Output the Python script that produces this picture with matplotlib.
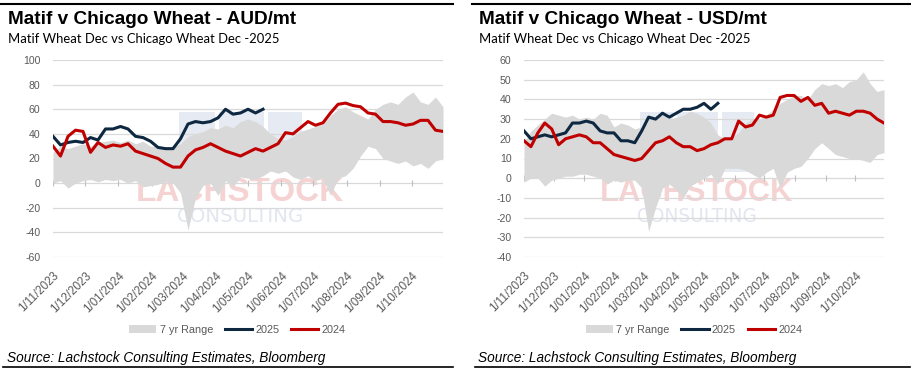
import numpy as np
import pandas as pd
import matplotlib
matplotlib.use('agg')
import matplotlib.pyplot as plt
from matplotlib.lines import Line2D
from matplotlib.patches import Patch, Rectangle

plt.rcParams['axes.unicode_minus'] = False

# weekly readings, 1 Nov 2023 -> 30 Oct 2024
dates = pd.date_range('2023-11-01', periods=53, freq='7D')

aud_lower = [0, 2, -4, 0, 2, 3, 1, 3, 2, 3, 0, 2, -3, -2, -1, 2, 0, -8, -38, -12,
             -2, 0, -10, 2, -3, 5, 4, 3, 6, 10, 8, 10, 5, 3, 6, 2, 4, -10, 4, 6,
             12, 22, 30, 28, 20, 18, 16, 18, 14, 16, 12, 18, 20]
aud_upper = [25, 30, 28, 30, 32, 30, 33, 34, 35, 33, 35, 32, 34, 30, 30, 28, 30, 32, 38, 40,
             42, 45, 44, 47, 45, 50, 52, 50, 46, 40, 36, 35, 38, 42, 44, 46, 48, 55, 60, 62,
             58, 55, 52, 60, 64, 66, 64, 70, 74, 66, 64, 70, 62]
aud_2024 = [30, 22, 38, 43, 42, 25, 33, 29, 31, 30, 32, 26, 24, 22, 20, 16, 13, 13, 22, 27,
            29, 32, 29, 26, 24, 22, 25, 28, 26, 29, 32, 41, 40, 45, 50, 47, 49, 57, 64, 65,
            63, 62, 57, 56, 50, 50, 49, 47, 48, 51, 51, 43, 42]
aud_2025 = [38, 31, 33, 34, 33, 37, 35, 44, 44, 46, 44, 38, 37, 34, 29, 28, 28, 36, 48, 50,
            49, 50, 53, 60, 56, 57, 60, 57, 60]

usd_lower = [-2, 0, 0, -4, -1, 0, 1, 1, 2, 2, 1, 0, -3, -1, -2, -1, -1, -5, -27, -15,
             -5, -3, -6, -10, -4, -2, 0, 2, -3, 5, 5, 5, 4, 2, 0, 3, 5, -5, 3, 5,
             6, 10, 15, 18, 15, 12, 11, 10, 10, 9, 8, 12, 13]
usd_upper = [18, 24, 27, 30, 33, 32, 31, 32, 30, 31, 30, 33, 32, 26, 28, 27, 25, 26, 30, 31,
             32, 30, 31, 32, 34, 33, 31, 28, 22, 20, 21, 23, 28, 30, 30, 32, 35, 38, 40, 42,
             42, 40, 45, 48, 47, 48, 46, 49, 50, 54, 48, 44, 45]
usd_2024 = [19, 16, 23, 28, 25, 17, 20, 21, 22, 21, 18, 18, 15, 12, 11, 10, 9, 10, 14, 18,
            19, 21, 18, 16, 16, 14, 15, 17, 18, 20, 20, 29, 26, 27, 32, 31, 32, 41, 42, 42,
            39, 41, 37, 38, 33, 34, 33, 32, 34, 34, 33, 30, 28]
usd_2025 = [24, 20, 21, 22, 21, 22, 23, 28, 28, 29, 28, 24, 23, 23, 19, 19, 18, 24, 31, 30,
            33, 31, 33, 35, 35, 36, 38, 35, 38]

tick_dates = pd.date_range('2023-11-01', periods=12, freq='MS')
tick_labels = ['1/11/2023', '1/12/2023', '1/01/2024', '1/02/2024', '1/03/2024', '1/04/2024',
               '1/05/2024', '1/06/2024', '1/07/2024', '1/08/2024', '1/09/2024', '1/10/2024']

W, H = 912, 371
GREY = '#d9d9d9'
NAVY = '#0e2841'
RED = '#c00000'
TXT = '#595959'

fig = plt.figure(figsize=(W / 100, H / 100), dpi=100)


def px(x, y):
    return x / W, 1 - y / H


def fit(t, width):
    r = fig.canvas.get_renderer()
    w = t.get_window_extent(r).width
    t.set_fontsize(t.get_fontsize() * width / w)


def panel(rect, lower, upper, s25, s24, ylim, ystep):
    ax = fig.add_axes(rect)
    # watermark
    for x0, x1 in [(0.323, 0.415), (0.425, 0.54), (0.55, 0.638)]:
        ax.add_patch(Rectangle((x0, 0.431), x1 - x0, 0.305, transform=ax.transAxes,
                               color='#e6ebf3', lw=0, zorder=0.2))
    t1 = ax.text(0.478, 0.327, 'LACHSTOCK', transform=ax.transAxes, ha='center', va='center',
                 color='#f5d3d3', fontsize=20, fontweight='bold', family='Liberation Sans',
                 zorder=0.3)
    t2 = ax.text(0.48, 0.208, 'CONSULTING', transform=ax.transAxes, ha='center', va='center',
                 color='#e1e6ef', fontsize=9, family='DejaVu Sans', zorder=0.3)
    ax.fill_between(dates, lower, upper, color=GREY, lw=0, zorder=2, label='7 yr Range')
    ax.plot(dates[:len(s25)], s25, color=NAVY, lw=2.2, zorder=3, label='2025')
    ax.plot(dates, s24, color=RED, lw=2.2, zorder=4, label='2024')
    # axis ticks sit on the zero line
    ax.plot(tick_dates, np.zeros(len(tick_dates)), ls='none', marker='|', ms=4.5,
            mew=0.8, color='#bfbfbf', zorder=1.5)
    ax.set_xlim(dates[0], dates[-1])
    ax.set_ylim(*ylim)
    ax.set_yticks(np.arange(ylim[0], ylim[1] + 1, ystep))
    ax.grid(axis='y', color=GREY, lw=0.9, zorder=1)
    ax.set_axisbelow(True)
    ax.set_xticks(tick_dates)
    ax.set_xticklabels(tick_labels, rotation=45, ha='right', va='top', rotation_mode='anchor')
    ax.tick_params(axis='both', length=0, colors=TXT)
    ax.tick_params(axis='x', pad=9, labelsize=8.4)
    ax.tick_params(axis='y', pad=9, labelsize=7.6)
    for lab in ax.get_xticklabels() + ax.get_yticklabels():
        lab.set_family('Liberation Sans')
    for s in ax.spines.values():
        s.set_visible(False)
    return ax, t1, t2


axL, wl1, wl2 = panel([53 / W, 1 - 257 / H, 390 / W, 197 / H],
                      aud_lower, aud_upper, aud_2025, aud_2024, (-60, 100), 20)
axR, wr1, wr2 = panel([524 / W, 1 - 257 / H, 360 / W, 197 / H],
                      usd_lower, usd_upper, usd_2025, usd_2024, (-40, 60), 10)

handles = [Patch(color=GREY, lw=0),
           Line2D([], [], color=NAVY, lw=2.2),
           Line2D([], [], color=RED, lw=2.2)]
names = ['7 yr Range', '2025', '2024']
for cx in (237.5, 694):
    lg = fig.legend(handles, names, loc='center', bbox_to_anchor=px(cx, 330), ncol=3,
                    frameon=False, prop={'family': 'Liberation Sans', 'size': 7.8},
                    handlelength=2.5, handletextpad=0.3, columnspacing=1.1)
    for t in lg.get_texts():
        t.set_color(TXT)

heads = []
for x0, unit in ((8, 'AUD'), (479, 'USD')):
    a = fig.text(*px(x0, 24), 'Matif v Chicago Wheat - %s/mt' % unit, fontsize=14,
                 fontweight='bold', family='Liberation Sans', va='baseline')
    b = fig.text(*px(x0, 43), 'Matif Wheat Dec vs Chicago Wheat Dec -2025', fontsize=10,
                 family='Lato', va='baseline')
    c = fig.text(*px(x0 - 1, 362), 'Source: Lachstock Consulting Estimates, Bloomberg',
                 fontsize=10, family='Liberation Sans', style='italic', va='baseline')
    heads.append((a, b, c))

fig.canvas.draw()
for a, b, c in heads:
    fit(a, 289)
    fit(b, 270)
    fit(c, 318)
fit(wl1, 208)
fit(wl2, 128)
fit(wr1, 193)
fit(wr2, 120)

# rules above and below each panel
for x0, x1 in ((0, 453), (472, 910)):
    fig.add_artist(Line2D([x0 / W, x1 / W], [1 - 4 / H] * 2, color='black', lw=1.5))
    fig.add_artist(Line2D([(x0 + 3) / W, x1 / W], [1 - 367 / H] * 2, color='black', lw=1.2))

fig.savefig('out.png', dpi=100)
